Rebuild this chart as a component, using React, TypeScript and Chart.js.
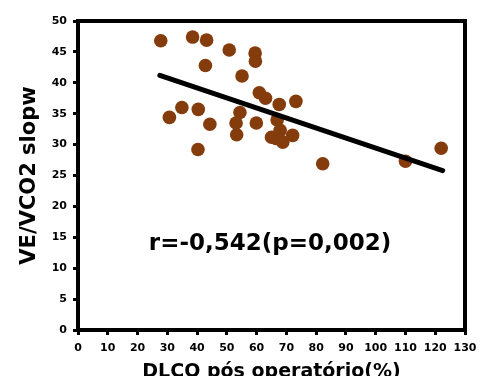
import React, { useEffect, useRef } from "react";
import { Chart, registerables } from "chart.js";

Chart.register(...registerables);

// DLCO pós operatório (%) vs VE/VCO2 slope
const dlco = [27.8, 38.5, 43.2, 50.8, 59.5, 59.6, 42.8, 55.1, 60.9, 63.0, 67.6, 73.2, 34.9, 40.4, 30.7, 44.3, 54.4, 53.1, 59.9, 66.9, 67.9, 53.3, 65.0, 68.8, 72.1, 40.3, 82.2, 110.0, 122.0, 66.5];
const slope = [46.8, 47.4, 46.9, 45.3, 44.8, 43.5, 42.8, 41.1, 38.4, 37.5, 36.5, 37.0, 36.0, 35.7, 34.4, 33.3, 35.2, 33.5, 33.5, 34.0, 32.3, 31.6, 31.2, 30.4, 31.5, 29.2, 26.9, 27.3, 29.4, 31.0];

const trendX = [27.5, 122.5];
const trendY = [41.2, 25.8];

const annotationText = "r=-0,542(p=0,002)";
const annotationX = 64.5;
const annotationY = 13.9;

const xTitle = "DLCO pós operatório(%)";
const yTitle = "VE/VCO2 slopw";

const FONT = "'DejaVu Sans', sans-serif";
const BROWN = "#843C0C";

export default function App() {
  const ref = useRef<HTMLCanvasElement | null>(null);

  useEffect(() => {
    if (!ref.current) return;
    const annotationPlugin = {
      id: "annot",
      afterDatasetsDraw(chart: any) {
        const { ctx, chartArea, scales } = chart;
        ctx.save();
        ctx.strokeStyle = "#000";
        ctx.lineWidth = 4;
        ctx.strokeRect(chartArea.left, chartArea.top, chartArea.right - chartArea.left, chartArea.bottom - chartArea.top);
        ctx.fillStyle = "#000";
        ctx.font = `bold 23px ${FONT}`;
        ctx.textAlign = "center";
        ctx.textBaseline = "middle";
        ctx.fillText(annotationText, scales.x.getPixelForValue(annotationX), scales.y.getPixelForValue(annotationY));
        ctx.restore();
      },
    };

    const chart = new Chart(ref.current, {
      type: "scatter",
      data: {
        datasets: [
          {
            type: "line",
            data: trendX.map((x, i) => ({ x, y: trendY[i] })),
            borderColor: "#000",
            borderWidth: 5,
            pointRadius: 0,
            borderCapStyle: "round",
            order: 0,
          } as any,
          {
            data: dlco.map((x, i) => ({ x, y: slope[i] })),
            backgroundColor: BROWN,
            borderColor: BROWN,
            borderWidth: 0,
            pointRadius: 6.8,
            order: 1,
          },
        ],
      },
      options: {
        animation: false,
        responsive: true,
        maintainAspectRatio: false,
        layout: { padding: { top: 21, right: 24, left: 0, bottom: 0 } },
        plugins: { legend: { display: false }, tooltip: { enabled: false } },
        scales: {
          x: {
            type: "linear",
            min: 0,
            max: 130,
            ticks: { stepSize: 10, color: "#000", font: { family: FONT, weight: "bold", size: 11 }, padding: 7, maxRotation: 0 },
            grid: { display: true, drawOnChartArea: false, drawTicks: true, tickLength: 5, tickWidth: 3, tickColor: "#000" },
            border: { display: true, color: "#000", width: 4 },
            title: { display: true, text: xTitle, color: "#000", font: { family: FONT, weight: "bold", size: 19 }, padding: { top: 0, bottom: -7 } },
            afterFit: (s: any) => { s.height = 46; },
          },
          y: {
            type: "linear",
            min: 0,
            max: 50,
            ticks: { stepSize: 5, color: "#000", font: { family: FONT, weight: "bold", size: 11 }, padding: 6 },
            grid: { display: true, drawOnChartArea: false, drawTicks: true, tickLength: 5, tickWidth: 3, tickColor: "#000" },
            border: { display: true, color: "#000", width: 4 },
            title: { display: true, text: yTitle, color: "#000", font: { family: FONT, weight: "bold", size: 21 }, padding: { top: 17, bottom: 0 } },
            afterFit: (s: any) => { s.width = 78; },
          },
        },
      },
      plugins: [annotationPlugin],
    } as any);
    return () => chart.destroy();
  }, []);

  return (
    <div style={{ position: "absolute", left: 0, top: 0, width: 489, height: 376, background: "#fff" }}>
      <canvas ref={ref} />
    </div>
  );
}
